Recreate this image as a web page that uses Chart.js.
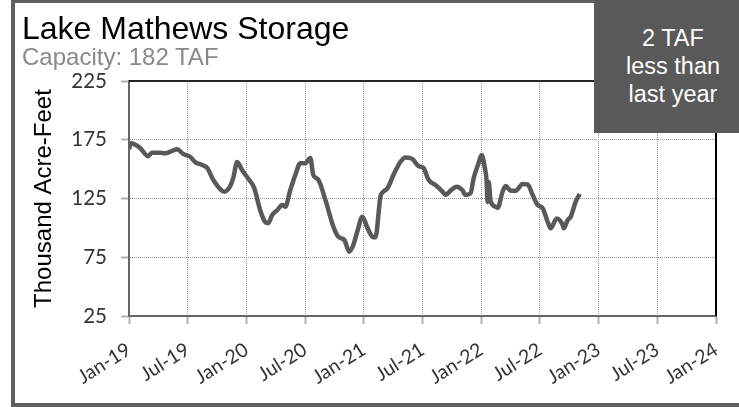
<!DOCTYPE html>
<html>
<head>
<meta charset="utf-8">
<script src="https://cdn.jsdelivr.net/npm/chart.js@4/dist/chart.umd.min.js"></script>
<style>
  html, body { margin: 0; padding: 0; background: #fff; overflow: hidden; }
  #wrap { position: relative; width: 739px; height: 407px; overflow: hidden; }
  #c { position: absolute; left: 0; top: 0; }
  #frame { position: absolute; left: 11px; top: 0; width: 760px; height: 407px; border-left: 4px solid #606060; border-top: 3px solid #606060; border-bottom: 4px solid #606060; box-sizing: border-box; pointer-events: none; }
  #title { position: absolute; left: 22px; top: 12px; font: 32px/32px "Liberation Sans", Arial, sans-serif; color: #000; white-space: nowrap; }
  #subtitle { position: absolute; left: 22px; top: 45px; font: 24px/24px "Liberation Sans", Arial, sans-serif; color: #898989; white-space: nowrap; }
  #box { position: absolute; left: 594px; top: 0; width: 158px; height: 133px; background: #595959; color: #fff; font: 23.5px/28px "Liberation Sans", Arial, sans-serif; text-align: center; box-sizing: border-box; padding-top: 24px; }
</style>
</head>
<body>
<div id="wrap">
  <canvas id="c" width="739" height="407"></canvas>
  <div id="frame"></div>
  <div id="title">Lake Mathews Storage</div>
  <div id="subtitle">Capacity: 182 TAF</div>
  <div id="box">2 TAF<br>less than<br>last year</div>
</div>
<script>
// Months since Jan 2019
const months = [0, 0.2, 1.13, 1.95, 2.35, 3.17, 3.69, 4.4, 4.91, 5.53, 6.25, 6.76, 7.47, 7.99, 8.6, 9.32, 9.73, 10.24, 10.65, 11.06, 11.57, 12.18, 12.8, 13.41, 13.92, 14.23, 14.64, 15.15, 15.66, 15.97, 16.48, 17.0, 17.51, 18.02, 18.53, 18.84, 19.35, 20.07, 20.89, 21.4, 22.01, 22.52, 22.93, 23.34, 23.86, 24.37, 24.88, 25.19, 25.7, 26.0, 26.42, 27.03, 27.75, 28.26, 28.98, 29.59, 30.1, 30.61, 31.33, 32.05, 32.35, 32.87, 33.48, 34.09, 34.4, 34.91, 35.22, 35.73, 36.04, 36.35, 36.55, 36.65, 36.76, 36.96, 37.47, 37.68, 38.19, 38.5, 39.01, 39.52, 40.24, 40.75, 41.26, 41.77, 42.29, 42.8, 43.1, 43.72, 44.33, 44.44, 44.84, 45.15, 45.66, 46.07];
// Storage, thousand acre-feet
const storage = [167, 172, 168, 161, 164, 164, 163.5, 165.5, 167, 163, 160.5, 156, 153.5, 151, 141, 133, 130.8, 134, 142.4, 156, 149, 142, 134, 115, 105, 104, 111, 115, 119.5, 118, 132, 145, 155, 155, 159.5, 145, 141, 124, 101, 92.5, 89.7, 79.7, 85.4, 97, 109.5, 100, 92.5, 92, 126.5, 130.8, 133.7, 145, 156.3, 160, 158.6, 152.6, 151, 141, 136.5, 130.8, 128, 131.7, 135, 132, 128, 129.5, 142, 155, 162, 152, 140, 122, 139, 123, 118, 117, 131, 135.6, 131.7, 131.7, 137.3, 137, 128, 119.5, 116.6, 105, 99.6, 108, 102.5, 99.6, 106.7, 109.5, 122.3, 128.8];
const xTickLabels = ['Jan-19', 'Jul-19', 'Jan-20', 'Jul-20', 'Jan-21', 'Jul-21', 'Jan-22', 'Jul-22', 'Jan-23', 'Jul-23', 'Jan-24'];
const yTicks = [25, 75, 125, 175, 225];

const points = months.map((m, i) => ({ x: m, y: storage[i] }));

const plotFrame = {
  id: 'plotFrame',
  afterDatasetsDraw(chart) {
    const { ctx, chartArea: a } = chart;
    ctx.save();
    ctx.lineWidth = 2;
    ctx.strokeStyle = '#262626';
    ctx.beginPath();
    ctx.moveTo(a.left, a.top);
    ctx.lineTo(a.right, a.top);
    ctx.stroke();
    ctx.strokeStyle = '#000';
    ctx.beginPath();
    ctx.moveTo(a.right, a.top);
    ctx.lineTo(a.right, a.bottom);
    ctx.stroke();
    ctx.restore();
  }
};

new Chart(document.getElementById('c'), {
  type: 'line',
  data: {
    datasets: [{
      data: points,
      borderColor: '#595959',
      borderWidth: 4.5,
      pointRadius: 0,
      cubicInterpolationMode: 'monotone',
      fill: false
    }]
  },
  options: {
    responsive: false,
    animation: false,
    devicePixelRatio: 1,
    layout: { padding: { left: 0, top: 81, right: 23, bottom: 0 } },
    plugins: { legend: { display: false }, tooltip: { enabled: false } },
    scales: {
      x: {
        type: 'linear',
        min: 0, max: 60,
        afterBuildTicks(scale) { scale.ticks = xTickLabels.map((_, i) => ({ value: i * 6 })); },
        afterFit(scale) { scale.height = 91; scale.paddingLeft = 0; scale.paddingRight = 0; },
        ticks: {
          autoSkip: false,
          maxRotation: 32, minRotation: 32,
          padding: 14,
          color: '#333',
          font: { family: 'Lato', size: 19.5 },
          callback: (v) => xTickLabels[Math.round(v / 6)]
        },
        grid: { color: '#969696', lineWidth: 1, tickColor: '#b0b0b0', tickWidth: 2, tickLength: 8 },
        border: { color: '#666', width: 2, dash: [1, 1] }
      },
      y: {
        min: 25, max: 225,
        afterBuildTicks(scale) { scale.ticks = yTicks.map(v => ({ value: v })); },
        afterFit(scale) { scale.width = 129; },
        ticks: { padding: 14, color: '#333', font: { family: 'Lato', size: 20.5 } },
        grid: { color: '#969696', lineWidth: 1, tickColor: '#b0b0b0', tickWidth: 2, tickLength: 8 },
        border: { color: '#666', width: 2, dash: [1, 1] },
        title: {
          display: true,
          text: 'Thousand Acre-Feet',
          color: '#000',
          font: { family: 'Liberation Sans', size: 24 },
          padding: { top: 30, bottom: 0 }
        }
      }
    }
  },
  plugins: [plotFrame]
});
</script>
</body>
</html>
